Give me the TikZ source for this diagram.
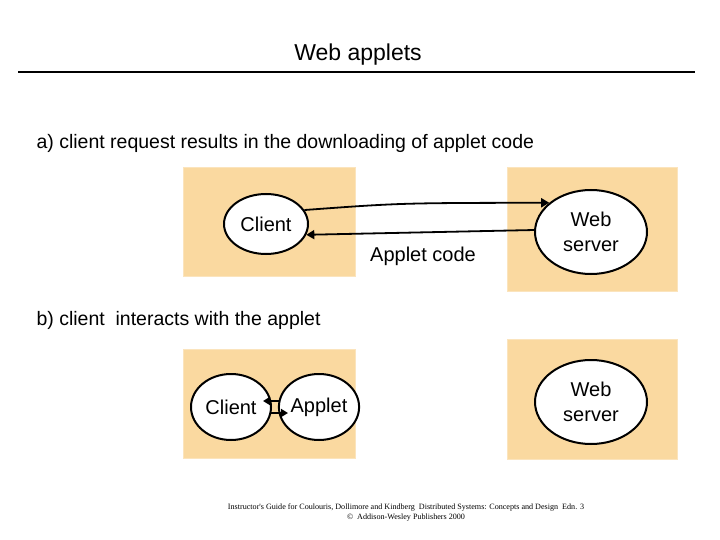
\documentclass[tikz,border=0pt]{standalone}
\usepackage{fontspec}
\setmainfont{Liberation Sans}
\newfontfamily\footfont{Liberation Serif}
\usetikzlibrary{arrows, arrows.meta, shapes.geometric}
\definecolor{boxorange}{HTML}{FAD9A0}
\tikzset{
  host/.style={fill=boxorange, draw=boxorange!70!white, line width=1pt},
  proc/.style={ellipse, draw, line width=2pt, fill=white, inner sep=0pt, font=\fontsize{20}{23}\selectfont},
  msg/.style={line width=1.8pt, -{Triangle[length=8pt,width=9pt]}}
}
\begin{document}
\begin{tikzpicture}[x=1pt, y=-1pt]
\useasboundingbox (0,0) rectangle (720,540);
\node (title) at (358,55) {\fontsize{23}{26}\selectfont Web applets};
\draw[line width=2.5pt] (18,72)--(695,72); %rule
\node[anchor=west] (parta) at (33,143) {\fontsize{19.5}{22}\selectfont a) client request results in the downloading of applet code};
% part a
\draw[host] (183,168) rectangle (355,276);
\draw[host] (507,168) rectangle (677,291);
\node[proc, minimum width=84pt, minimum height=60pt] (client) at (266,224) {Client};
\node[proc, minimum width=112pt, minimum height=84pt, align=center] (web) at (591,232) {Web\\[2pt]server};
\draw[msg] (client.20) .. controls (400,203) .. (web.145);
\draw[msg] (web.178) -- (client.-15);
\node (code) at (423,256) {\fontsize{20}{23}\selectfont Applet code};
% part b
\node[anchor=west] (partb) at (33,320) {\fontsize{19.5}{22}\selectfont b) client\ \ interacts with the applet};
\draw[host] (183,349) rectangle (355,458);
\draw[host] (507,339) rectangle (677,459);
\node[proc, minimum width=80pt, minimum height=66pt] (client2) at (231,407) {Client};
\node[proc, minimum width=80pt, minimum height=66pt] (applet) at (319,407) {Applet};
\node[proc, minimum width=112pt, minimum height=84pt, align=center] (web2) at (591,402) {Web\\[2pt]server};
\draw[line width=1.8pt, -{Triangle[length=7pt,width=8pt]}] (280,401) -- (263,401);
\draw[line width=1.8pt, -{Triangle[length=7pt,width=8pt]}] (270,413) -- (288,413);
% footer
\node[font=\footfont\fontsize{8.1}{10}\selectfont, align=center] (foot) at (406,513) {Instructor's Guide for Coulouris, Dollimore and Kindberg\ \ Distributed Systems: Concepts and Design\ \ Edn. 3\\\copyright\ \ Addison-Wesley Publishers 2000};
\end{tikzpicture}
\end{document}
